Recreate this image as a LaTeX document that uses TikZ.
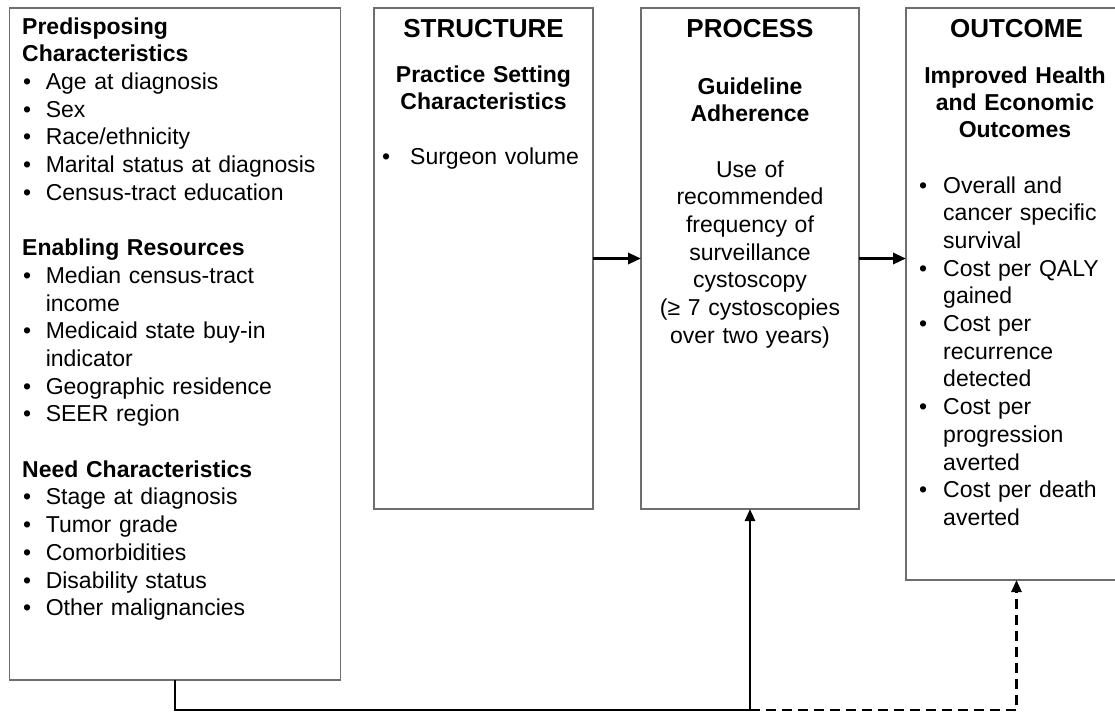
\documentclass[tikz,border=0pt]{standalone}
\usepackage{fontspec}
\setmainfont{Liberation Sans}
\usetikzlibrary{arrows.meta}
\definecolor{boxgray}{HTML}{6E6E6E}
\newcommand\bitem[2][23.6pt]{\makebox[#1][l]{\hspace{1pt}\textbullet}#2}
\newcommand\cont[2][23.6pt]{\hspace*{#1}#2}
\begin{document}
\begin{tikzpicture}[x=1pt,y=-1pt,
  box/.style={draw=boxgray, line width=1.3pt, inner sep=0, outer sep=0, fill=white},
  txt/.style={inner sep=0, font=\fontsize{23}{27.7}\selectfont},
  ttl/.style={inner sep=0, font=\bfseries\fontsize{26}{30}\selectfont, anchor=base},
  arr/.style={line width=3.2pt, -{Triangle[length=13pt,width=11pt]}},
  link/.style={line width=2.6pt},
  dlink/.style={line width=2.6pt, dash pattern=on 10pt off 6pt},
  vtip/.style={-{Triangle[length=12pt,width=10pt]}}
]
\useasboundingbox (0,0) rectangle (1115,713);
\clip (0,0) rectangle (1115,713);
% boxes
\node[box, minimum width=331pt, minimum height=672pt] (lb) at (175,344) {};
\node[box, minimum width=219pt, minimum height=501pt] (sb) at (483.5,258.5) {};
\node[box, minimum width=218pt, minimum height=501pt] (pb) at (750,258.5) {};
\node[box, minimum width=221pt, minimum height=572pt] (ob) at (1016.5,294) {};
% left box text
\node[txt, anchor=base west, text width=318pt, align=left] (lt) at (22,34) {%
{\bfseries Predisposing}\\
{\bfseries Characteristics}\\
\bitem{Age at diagnosis}\\
\bitem{Sex}\\
\bitem{Race/ethnicity}\\
\bitem{Marital status at diagnosis}\\
\bitem{Census-tract education}\\[27.7pt]
{\bfseries Enabling Resources}\\
\bitem{Median census-tract}\\
\cont{income}\\
\bitem{Medicaid state buy-in}\\
\cont{indicator}\\
\bitem{Geographic residence}\\
\bitem{SEER region}\\[27.7pt]
{\bfseries Need Characteristics}\\
\bitem{Stage at diagnosis}\\
\bitem{Tumor grade}\\
\bitem{Comorbidities}\\
\bitem{Disability status}\\
\bitem{Other malignancies}};
% structure
\node[ttl] (st) at (483.5,37) {STRUCTURE};
\node[txt, anchor=base, text width=215pt, align=center, font=\bfseries\fontsize{23}{27.5}\selectfont] (sh) at (483.5,82) {Practice Setting\\Characteristics};
\node[txt, anchor=base west, text width=210pt, align=left] (sl) at (381,164) {\bitem[29pt]{Surgeon volume}};
% process
\node[ttl] (pt) at (750,37) {PROCESS};
\node[txt, anchor=base, text width=214pt, align=center, font=\bfseries\fontsize{23}{27.7}\selectfont] (ph) at (750,94) {Guideline\\Adherence};
\node[txt, anchor=base, text width=214pt, align=center] (pl) at (750,177) {Use of\\recommended\\frequency of\\surveillance\\cystoscopy\\(≥ 7 cystoscopies\\over two years)};
% outcome
\node[ttl] (ot) at (1016.5,37) {OUTCOME};
\node[txt, anchor=base, text width=215pt, align=center, font=\bfseries\fontsize{23}{27.2}\selectfont] (oh) at (1015,83) {Improved Health\\and Economic\\Outcomes};
\node[txt, anchor=base west, text width=190pt, align=left] (ol) at (918,193) {%
\bitem[25pt]{Overall and}\\
\cont[25pt]{cancer specific}\\
\cont[25pt]{survival}\\
\bitem[25pt]{Cost per QALY}\\
\cont[25pt]{gained}\\
\bitem[25pt]{Cost per}\\
\cont[25pt]{recurrence}\\
\cont[25pt]{detected}\\
\bitem[25pt]{Cost per}\\
\cont[25pt]{progression}\\
\cont[25pt]{averted}\\
\bitem[25pt]{Cost per death}\\
\cont[25pt]{averted}};
% connectors
\coordinate (j) at (0,710);
\draw[arr] (sb.east) -- (pb.west);
\draw[arr] (pb.east) -- (pb.east -| ob.west);
\draw[dlink, vtip] (pb.south |- j) -- (ob.south |- j) -- (ob.south);
\draw[link, vtip] (lb.south) -- (lb.south |- j) -- (pb.south |- j) -- (pb.south);
\end{tikzpicture}
\end{document}
